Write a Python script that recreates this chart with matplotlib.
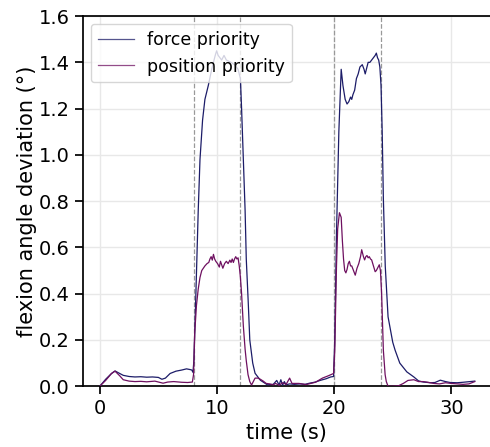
import matplotlib
matplotlib.use("Agg")
import matplotlib.pyplot as plt
import numpy as np

# ---- data ----
t_force = [0, 0.5, 1.0, 1.3, 1.7, 2.0, 2.5, 3.0, 3.5, 4.0, 4.5, 5.0, 5.3, 5.6, 6.0, 6.5, 7.0, 7.4,
           7.7, 7.85, 7.95, 8.03, 8.2, 8.4, 8.55, 8.77, 8.97, 9.26, 9.55, 9.85, 9.97, 10.1, 10.4,
           10.6, 10.8, 11.2, 11.5, 11.8, 12.0, 12.1, 12.25, 12.4, 12.5, 12.67, 12.8, 13.05, 13.25,
           13.7, 14.3, 14.8, 15.1, 15.3, 15.45, 15.6, 15.75, 15.9, 16.2, 16.6, 17.1, 17.5, 17.9,
           18.4, 18.8, 19.3, 19.7, 19.95, 20.05, 20.2, 20.4, 20.6, 20.75, 20.94, 21.1, 21.25, 21.4,
           21.5, 21.6, 21.75, 21.9, 22.05, 22.2, 22.4, 22.55, 22.65, 22.8, 22.9, 23.05, 23.2, 23.35,
           23.5, 23.6, 23.7, 23.8, 23.9, 24.0, 24.1, 24.2, 24.36, 24.6, 25.0, 25.2, 25.6, 26.2,
           26.8, 27.2, 27.6, 28.2, 28.6, 29.06, 29.5, 29.9, 30.5, 31.0, 31.6, 32.0]
force = [0.0, 0.03, 0.055, 0.066, 0.055, 0.047, 0.042, 0.04, 0.041, 0.039, 0.04, 0.038, 0.03, 0.035,
         0.055, 0.065, 0.07, 0.075, 0.072, 0.07, 0.06, 0.11, 0.40, 0.76, 0.98, 1.15, 1.24, 1.30,
         1.37, 1.43, 1.45, 1.43, 1.41, 1.43, 1.41, 1.40, 1.39, 1.37, 1.33, 1.20, 0.98, 0.76, 0.55,
         0.36, 0.20, 0.10, 0.056, 0.026, 0.006, 0.008, 0.025, 0.005, 0.028, 0.004, 0.02, 0.006,
         0.01, 0.008, 0.01, 0.008, 0.013, 0.018, 0.025, 0.032, 0.04, 0.042, 0.2, 0.66, 1.1, 1.37,
         1.30, 1.24, 1.22, 1.23, 1.25, 1.24, 1.26, 1.28, 1.33, 1.35, 1.38, 1.39, 1.37, 1.35, 1.38,
         1.40, 1.40, 1.41, 1.42, 1.43, 1.44, 1.42, 1.41, 1.38, 1.30, 1.10, 0.81, 0.52, 0.30, 0.19,
         0.156, 0.10, 0.062, 0.04, 0.023, 0.018, 0.015, 0.016, 0.026, 0.02, 0.016, 0.015, 0.017,
         0.02, 0.022]

t_pos = [0, 0.5, 1.0, 1.3, 1.7, 2.0, 2.5, 3.0, 3.5, 4.0, 4.7, 5.0, 5.4, 5.8, 6.3, 7.0, 7.5, 7.9,
         8.0, 8.1, 8.25, 8.4, 8.55, 8.7, 8.97, 9.15, 9.3, 9.4, 9.5, 9.6, 9.7, 9.8, 9.9, 10.05,
         10.2, 10.3, 10.4, 10.5, 10.65, 10.8, 10.95, 11.1, 11.2, 11.3, 11.4, 11.5, 11.6, 11.7,
         11.8, 11.9, 12.0, 12.1, 12.25, 12.4, 12.5, 12.65, 12.8, 12.95, 13.1, 13.25, 13.5, 13.7,
         13.95, 14.2, 14.5, 14.8, 15.0, 15.3, 15.6, 15.9, 16.2, 16.4, 17.0, 17.6, 18.0, 18.4,
         19.0, 19.5, 19.95, 20.05, 20.2, 20.3, 20.45, 20.6, 20.7, 20.8, 20.9, 21.0, 21.1, 21.2,
         21.3, 21.4, 21.5, 21.65, 21.8, 21.95, 22.1, 22.25, 22.35, 22.5, 22.6, 22.7, 22.8, 22.9,
         23.0, 23.1, 23.2, 23.35, 23.5, 23.6, 23.7, 23.85, 23.95, 24.05, 24.2, 24.35, 24.45,
         24.6, 25.0, 25.5, 25.9, 26.3, 26.8, 27.2, 27.6, 28.0, 28.5, 29.0, 29.5, 30.0, 30.5,
         31.0, 31.5, 32.0]
pos = [0.0, 0.025, 0.055, 0.065, 0.045, 0.028, 0.022, 0.02, 0.021, 0.019, 0.022, 0.018, 0.013,
       0.018, 0.02, 0.017, 0.016, 0.018, 0.05, 0.23, 0.35, 0.42, 0.47, 0.50, 0.52, 0.53, 0.535,
       0.55, 0.56, 0.545, 0.57, 0.55, 0.54, 0.53, 0.515, 0.54, 0.525, 0.51, 0.53, 0.54, 0.53,
       0.545, 0.535, 0.55, 0.535, 0.55, 0.56, 0.55, 0.555, 0.52, 0.47, 0.40, 0.26, 0.16, 0.11,
       0.05, 0.02, 0.005, 0.02, 0.035, 0.035, 0.03, 0.022, 0.012, 0.01, 0.006, 0.012, 0.004,
       0.015, 0.008, 0.035, 0.012, 0.012, 0.007, 0.012, 0.017, 0.035, 0.045, 0.055, 0.15, 0.52,
       0.68, 0.75, 0.73, 0.63, 0.55, 0.50, 0.49, 0.505, 0.53, 0.54, 0.52, 0.52, 0.50, 0.48, 0.51,
       0.53, 0.56, 0.59, 0.56, 0.546, 0.56, 0.565, 0.555, 0.56, 0.55, 0.546, 0.52, 0.495, 0.50,
       0.51, 0.525, 0.50, 0.40, 0.155, 0.05, 0.02, 0.0, 0.0, 0.002, 0.012, 0.025, 0.028, 0.02,
       0.02, 0.017, 0.012, 0.01, 0.015, 0.012, 0.01, 0.008, 0.01, 0.02]

switch_times = [8, 12, 20, 24]
labels = ["force priority", "position priority"]
xticks = [0, 10, 20, 30]
yticks = [0.0, 0.2, 0.4, 0.6, 0.8, 1.0, 1.2, 1.4, 1.6]

# ---- figure ----
fig = plt.figure(figsize=(4.9, 4.47), dpi=100)
ax = fig.add_axes([0.169, 0.136, 0.831, 0.828])

for ts in switch_times:
    ax.axvline(ts, color="#999999", ls="--", lw=0.9, zorder=1)

ax.plot(t_force, force, color="#1c1c68", lw=0.9, label=labels[0], zorder=3)
ax.plot(t_pos, pos, color="#6e1060", lw=0.9, label=labels[1], zorder=3)

ax.set_xlim(-1.45, 33.3)
ax.set_ylim(0, 1.6)
ax.set_xticks(xticks)
ax.set_yticks(yticks)
ax.set_yticklabels([f"{v:.1f}" for v in yticks])
ax.grid(True, color="#e8e8e8", lw=1.0, zorder=0)
ax.set_axisbelow(True)
ax.tick_params(axis="both", labelsize=14, length=6, width=1.25, direction="out", color="black")
for s in ["left", "bottom", "top"]:
    ax.spines[s].set_linewidth(1.25)
ax.spines["right"].set_visible(False)

ax.set_xlabel("time (s)", fontsize=15, labelpad=3)
ax.set_ylabel("flexion angle deviation (°)", fontsize=15, labelpad=1)

leg = ax.legend(loc="upper left", fontsize=12.5, handlelength=2.1, handletextpad=0.75,
                frameon=True, bbox_to_anchor=(0.0, 1.0), borderaxespad=0.45)
leg.get_frame().set_edgecolor("#cccccc")
for line in leg.get_lines():
    line.set_alpha(0.75)

fig.savefig("out.png", dpi=100)
